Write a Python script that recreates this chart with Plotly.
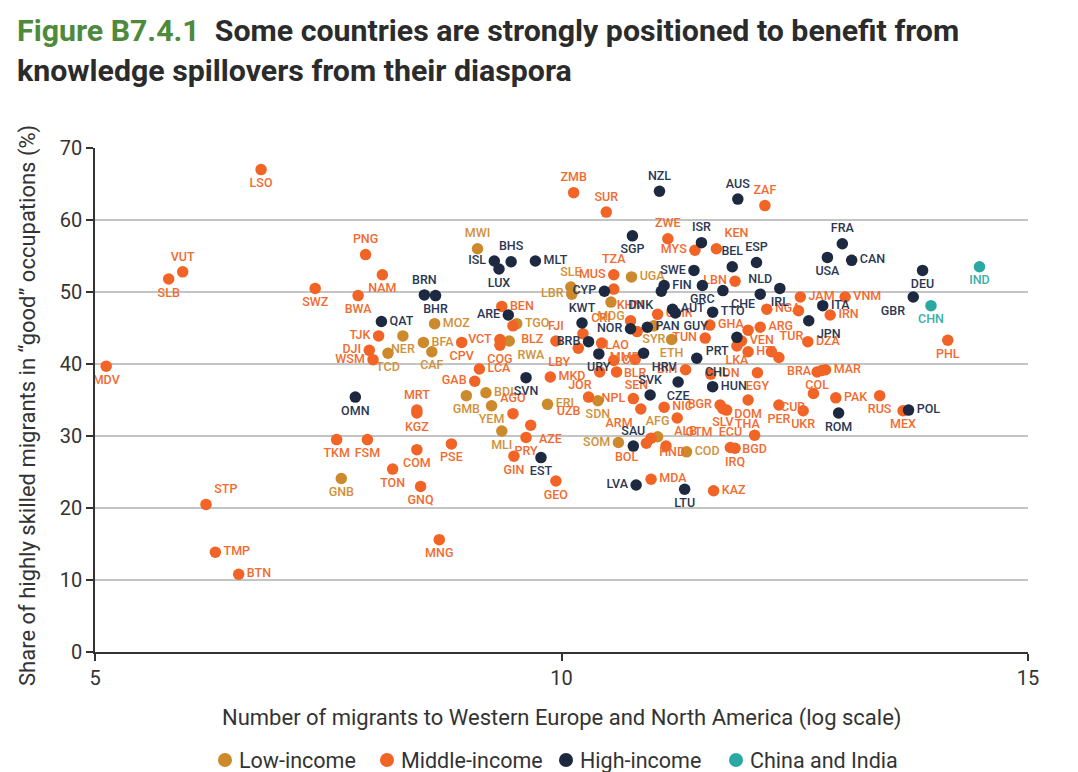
import plotly.graph_objects as go

# ---------------- data ----------------
low_labels = ["MWI", "SLE", "LBR", "UGA", "MDG", "MOZ", "NER", "BFA", "TCD", "CAF", "TGO", "RWA",
              "ETH", "SYR", "GMB", "BDI", "YEM", "ERI", "MLI", "SDN", "SOM", "AFG", "COD", "GNB"]
low_x = [9.10, 10.10, 10.11, 10.75, 10.53, 8.64, 8.30, 8.52, 8.14, 8.61, 9.52, 9.44,
         11.18, 10.99, 8.98, 9.19, 9.25, 9.85, 9.36, 10.39, 10.61, 11.03, 11.34, 7.64]
low_y = [56.0, 50.7, 49.7, 52.1, 48.6, 45.6, 43.9, 43.0, 41.5, 41.7, 45.6, 43.2,
         43.4, 45.3, 35.6, 36.0, 34.2, 34.4, 30.7, 34.9, 29.1, 29.9, 27.8, 24.1]

mid_labels = ["LSO", "VUT", "SLB", "SWZ", "PNG", "NAM", "BWA", "BEN", "ZMB", "SUR", "ZAF", "ZWE",
              "MYS", "KEN", "TZA", "LBN", "MUS", "KHM", "CMR", "NGA", "", "JAM", "VNM", "IRN",
              "DZA", "PHL", "GHA", "", "ARG", "VEN", "LKA", "HTI", "TUR", "BRA", "COL", "",
              "MAR", "CUB", "PAK", "RUS", "UKR", "MEX", "PER", "DOM", "EGY", "IDN", "BIH", "BGR",
              "SLV", "THA", "NIC", "GTM", "ARM", "NPL", "UZB", "JOR", "SEN", "CIV", "BLR", "MMR",
              "LAO", "TUN", "CRI", "FJI", "LBY", "MKD", "LCA", "GAB", "AGO", "AZE", "PRY", "GIN",
              "GEO", "VCT", "COG", "BLZ", "CPV", "TJK", "DJI", "WSM", "MRT", "KGZ", "TKM", "FSM",
              "PSE", "COM", "TON", "GNQ", "MNG", "STP", "TMP", "BTN", "MDV", "MDA", "KAZ", "BOL",
              "HND", "ALB", "ECU", "IRQ", "BGD"]
mid_x = [6.78, 5.94, 5.79, 7.36, 7.90, 8.08, 7.82, 9.36, 10.13, 10.48, 12.18, 11.14,
         11.43, 11.66, 10.56, 11.86, 10.56, 10.74, 11.03, 12.20, 12.54, 12.56, 13.04, 12.88,
         12.64, 14.14, 11.59, 12.00, 12.13, 11.93, 11.88, 12.00, 12.25, 12.33, 12.74, 12.79,
         12.83, 12.70, 12.94, 13.41, 12.59, 13.66, 12.33, 12.00, 12.10, 11.60, 11.33, 11.70,
         11.73, 11.77, 11.10, 11.24, 10.85, 10.77, 10.29, 10.41, 10.59, 10.56, 10.79, 10.43,
         10.81, 11.54, 10.23, 9.94, 10.18, 9.88, 9.12, 9.07, 9.48, 9.67, 9.62, 9.49,
         9.94, 9.34, 9.34, 9.48, 8.93, 8.04, 7.94, 7.98, 8.45, 8.45, 7.59, 7.92,
         8.82, 8.45, 8.19, 8.49, 8.69, 6.19, 6.29, 6.54, 5.12, 10.96, 11.63, 10.91,
         10.96, 11.12, 11.81, 11.86, 12.07]
mid_y = [67.0, 52.8, 51.8, 50.5, 55.2, 52.4, 49.5, 48.0, 63.8, 61.1, 62.0, 57.4,
         55.8, 56.0, 52.4, 51.5, 50.4, 46.0, 46.9, 47.6, 47.4, 49.3, 49.3, 46.8,
         43.1, 43.3, 45.4, 44.7, 45.1, 43.2, 42.5, 41.7, 41.7, 40.9, 38.9, 39.1,
         39.2, 35.9, 35.3, 35.6, 33.5, 33.5, 34.3, 35.0, 38.8, 38.6, 39.2, 34.3,
         33.8, 33.6, 34.0, 32.5, 33.75, 35.2, 35.4, 38.9, 38.9, 40.5, 40.65, 42.9,
         44.5, 43.6, 44.2, 43.2, 42.2, 38.2, 39.3, 37.6, 33.1, 31.5, 29.8, 27.2,
         23.75, 43.4, 42.6, 45.3, 43.0, 43.9, 41.9, 40.6, 33.6, 33.2, 29.5, 29.5,
         28.9, 28.1, 25.4, 23.0, 15.6, 20.5, 13.85, 10.8, 39.7, 24.0, 22.4, 29.0,
         29.7, 28.6, 28.4, 28.3, 30.1]

high_labels = ["NZL", "AUS", "SGP", "ISR", "BEL", "ESP", "ISL", "BHS", "LUX", "MLT", "BRN", "BHR",
               "QAT", "ARE", "SWE", "CYP", "FIN", "DNK", "GRC", "CHE", "NLD", "IRL", "FRA", "USA",
               "CAN", "DEU", "GBR", "ITA", "JPN", "KWT", "AUT", "GUY", "TTO", "NOR", "PAN", "BRB",
               "URY", "HRV", "CHL", "PRT", "HUN", "CZE", "SVK", "SVN", "OMN", "EST", "SAU", "ROM",
               "POL", "LVA", "LTU"]
high_x = [11.05, 11.89, 10.76, 11.50, 11.83, 12.09, 9.28, 9.46, 9.33, 9.72, 8.53, 8.65,
          8.07, 9.43, 11.42, 10.46, 11.10, 11.07, 11.51, 11.73, 12.13, 12.34, 13.01, 12.85,
          13.11, 13.87, 13.77, 12.80, 12.65, 10.22, 11.19, 11.22, 11.62, 10.74, 10.92, 10.29,
          10.40, 10.88, 11.45, 11.88, 11.62, 11.25, 10.95, 9.62, 7.79, 9.78, 10.77, 12.97,
          13.72, 10.80, 11.32]
high_y = [64.0, 62.9, 57.8, 56.85, 53.5, 54.1, 54.3, 54.2, 53.2, 54.3, 49.6, 49.5,
          45.9, 46.8, 53.0, 50.1, 50.9, 50.1, 50.9, 50.2, 49.7, 50.5, 56.7, 54.8,
          54.4, 53.0, 49.3, 48.1, 46.0, 45.7, 47.6, 47.1, 47.2, 44.9, 45.1, 43.1,
          41.4, 41.5, 40.8, 43.7, 36.85, 37.5, 35.7, 38.1, 35.4, 27.0, 28.6, 33.2,
          33.6, 23.2, 22.6]

ci_labels = ["IND", "CHN"]
ci_x = [14.48, 13.96]
ci_y = [53.5, 48.1]

legend_names = ["Low-income", "Middle-income", "High-income", "China and India"]
x_ticks = [5, 10, 15]
y_ticks = [0, 10, 20, 30, 40, 50, 60, 70]

# label placement (style only)
label_pos = {
    "MWI": "top center", "SLE": "top center", "LBR": "middle left", "UGA": "middle right",
    "MDG": "bottom center", "MOZ": "middle right", "NER": "bottom center", "BFA": "middle right",
    "TCD": "bottom center", "CAF": "bottom center", "TGO": "middle right", "RWA": "bottom right",
    "ETH": "bottom center", "SYR": "bottom center", "GMB": "bottom center", "BDI": "middle right",
    "YEM": "bottom center", "ERI": "middle right", "MLI": "bottom center", "SDN": "bottom center",
    "SOM": "middle left", "AFG": "top center", "COD": "middle right", "GNB": "bottom center",
    "LSO": "bottom center", "VUT": "top center", "SLB": "bottom center", "SWZ": "bottom center",
    "PNG": "top center", "NAM": "bottom center", "BWA": "bottom center", "BEN": "middle right",
    "ZMB": "top center", "SUR": "top center", "ZAF": "top center", "ZWE": "top center",
    "MYS": "middle left", "KEN": "top right", "TZA": "top center", "LBN": "middle left",
    "MUS": "top left", "KHM": "top center", "CMR": "middle right", "NGA": "middle right",
    "JAM": "middle right", "VNM": "middle right", "IRN": "middle right", "DZA": "middle right",
    "PHL": "bottom center", "GHA": "middle right", "ARG": "middle right", "VEN": "middle right",
    "LKA": "bottom center", "HTI": "middle right", "TUR": "top right", "BRA": "bottom right",
    "COL": "bottom center", "MAR": "middle right", "CUB": "bottom left", "PAK": "middle right",
    "RUS": "bottom center", "UKR": "bottom center", "MEX": "bottom center", "PER": "bottom center",
    "DOM": "bottom center", "EGY": "bottom center", "IDN": "middle right", "BIH": "middle left",
    "BGR": "middle left", "SLV": "bottom center", "THA": "bottom right", "NIC": "middle right",
    "GTM": "bottom right", "ARM": "bottom left", "NPL": "middle left", "UZB": "bottom left",
    "JOR": "bottom left", "SEN": "bottom right", "CIV": "middle right", "BLR": "bottom center",
    "MMR": "bottom right", "LAO": "bottom left", "TUN": "middle left", "CRI": "top right",
    "FJI": "top center", "LBY": "bottom left", "MKD": "middle right", "LCA": "middle right",
    "GAB": "middle left", "AGO": "top center", "AZE": "bottom right", "PRY": "bottom center",
    "GIN": "bottom center", "GEO": "bottom center", "VCT": "middle left", "COG": "bottom center",
    "BLZ": "bottom right", "CPV": "bottom center", "TJK": "middle left", "DJI": "middle left",
    "WSM": "middle left", "MRT": "top center", "KGZ": "bottom center", "TKM": "bottom center",
    "FSM": "bottom center", "PSE": "bottom center", "COM": "bottom center", "TON": "bottom center",
    "GNQ": "bottom center", "MNG": "bottom center", "STP": "top right", "TMP": "middle right",
    "BTN": "middle right", "MDV": "bottom center", "MDA": "middle right", "KAZ": "middle right",
    "BOL": "bottom left", "HND": "bottom right", "ALB": "top right", "ECU": "top center",
    "IRQ": "bottom center", "BGD": "bottom center",
    "NZL": "top center", "AUS": "top center", "SGP": "bottom center", "ISR": "top center",
    "BEL": "top center", "ESP": "top center", "ISL": "middle left", "BHS": "top center",
    "LUX": "bottom center", "MLT": "middle right", "BRN": "top center", "BHR": "bottom center",
    "QAT": "middle right", "ARE": "middle left", "SWE": "middle left", "CYP": "middle left",
    "FIN": "middle right", "DNK": "bottom left", "GRC": "bottom center", "CHE": "bottom right",
    "NLD": "top center", "IRL": "bottom center", "FRA": "top center", "USA": "bottom center",
    "CAN": "middle right", "DEU": "bottom center", "GBR": "bottom left", "ITA": "middle right",
    "JPN": "bottom right", "KWT": "top center", "AUT": "middle right", "GUY": "bottom right",
    "TTO": "middle right", "NOR": "middle left", "PAN": "middle right", "BRB": "middle left",
    "URY": "bottom center", "HRV": "bottom right", "CHL": "bottom right", "PRT": "bottom left",
    "HUN": "middle right", "CZE": "bottom center", "SVK": "top center", "SVN": "bottom center",
    "OMN": "bottom center", "EST": "bottom center", "SAU": "top center", "ROM": "bottom center",
    "POL": "middle right", "LVA": "middle left", "LTU": "bottom center",
    "IND": "bottom center", "CHN": "bottom center",
}

colors = ["#CC8A2C", "#F26426", "#1D2940", "#2AA9A2"]
text_colors = ["#D0913A", "#F26B30", "#2B3752", "#3AB0AA"]
groups = [
    (low_labels, low_x, low_y),
    (mid_labels, mid_x, mid_y),
    (high_labels, high_x, high_y),
    (ci_labels, ci_x, ci_y),
]

FONT = "Roboto, 'Noto Sans', Arial, sans-serif"
W, H = 1062, 764  # page has an 8px body margin inside a 1078x772 window

fig = go.Figure()
for (labs, xs, ys), name, col, tcol in zip(groups, legend_names, colors, text_colors):
    fig.add_trace(go.Scatter(
        x=xs, y=ys, mode="markers+text", name=name, showlegend=False,
        text=labs,
        textposition=[label_pos.get(l, "middle right") for l in labs],
        textfont=dict(family=FONT, size=12.5, color=tcol, weight=500),
        marker=dict(size=11.5, color=col, line=dict(width=0)),
        cliponaxis=False,
    ))

fig.update_layout(
    width=W, height=H,
    margin=dict(l=87, r=42, t=140, b=H - 644),
    paper_bgcolor="white", plot_bgcolor="white",
    font=dict(family=FONT, color="#333333"),
    showlegend=False,
    xaxis=dict(range=[5, 15], tickvals=x_ticks,
               showgrid=False, zeroline=False, showline=True, linecolor="#333333", linewidth=1.5,
               ticks="outside", ticklen=7, tickcolor="#333333", tickwidth=1.5,
               tickfont=dict(size=20, color="#333333")),
    yaxis=dict(range=[0, 70], tickvals=y_ticks,
               showgrid=True, gridcolor="#C4C4C4", gridwidth=2, zeroline=False,
               showline=True, linecolor="#333333", linewidth=1.5,
               ticks="outside", ticklen=7, tickcolor="#333333", tickwidth=1.5,
               tickfont=dict(size=20, color="#333333")),
)

# paper-coordinate helpers (plot area spans 933 x 504 px)
def px_x(p):
    return (p - 95) / 933

def px_y(p):
    return (652 - p) / 504

# titles
fig.add_annotation(xref="paper", yref="paper", x=px_x(15), y=px_y(31),
                   xanchor="left", yanchor="middle", showarrow=False,
                   text="<b><span style='color:#4E8A3B'>Figure B7.4.1</span>  Some countries are strongly positioned to benefit from</b>",
                   font=dict(size=30.3, color="#2B2B2B", family=FONT))
fig.add_annotation(xref="paper", yref="paper", x=px_x(15), y=px_y(70),
                   xanchor="left", yanchor="middle", showarrow=False,
                   text="<b>knowledge spillovers from their diaspora</b>",
                   font=dict(size=30.3, color="#2B2B2B", family=FONT))
fig.add_annotation(xref="paper", yref="paper", x=0.5, y=px_y(718),
                   xanchor="center", yanchor="middle", showarrow=False,
                   text="Number of migrants to Western Europe and North America (log scale)",
                   font=dict(size=22, color="#333333", family=FONT))
fig.add_annotation(xref="paper", yref="paper", x=px_x(28), y=px_y(406),
                   xanchor="center", yanchor="middle", showarrow=False, textangle=-90,
                   text="Share of highly skilled migrants in \u201cgood\u201d occupations (%)",
                   font=dict(size=22, color="#333333", family=FONT))

# manual legend
leg_marker_px = [225, 387, 566, 736]
for name, col, mx in zip(legend_names, colors, leg_marker_px):
    fig.add_shape(type="circle", xref="paper", yref="paper",
                  xsizemode="pixel", ysizemode="pixel",
                  xanchor=px_x(mx), yanchor=px_y(760),
                  x0=-7, x1=7, y0=-7, y1=7,
                  fillcolor=col, line=dict(width=0))
    fig.add_annotation(xref="paper", yref="paper", x=px_x(mx + 12), y=px_y(760),
                       xanchor="left", yanchor="middle", showarrow=False,
                       text=name, font=dict(size=21.5, color="#333333", family=FONT))

fig.write_html("out.html")
